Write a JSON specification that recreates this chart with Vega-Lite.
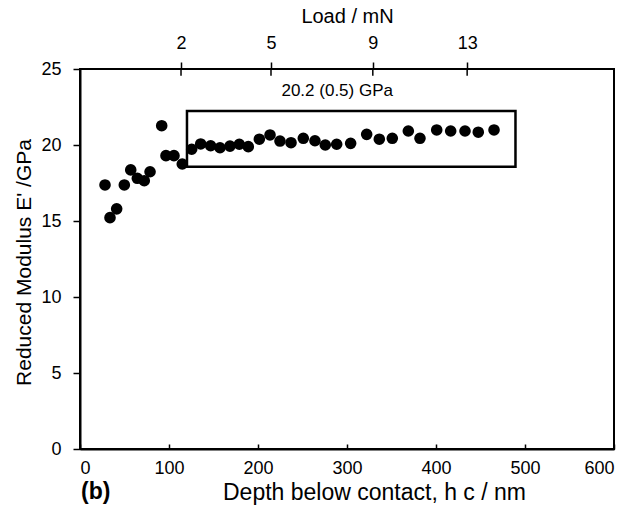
{
  "$schema": "https://vega.github.io/schema/vega-lite/v6.json",
  "autosize": {"type": "none"},
  "width": 534,
  "height": 380,
  "padding": {"left": 80, "top": 69, "right": 17, "bottom": 68},
  "background": "white",
  "config": {
    "font": "Liberation Sans",
    "view": {"stroke": "black", "strokeWidth": 2},
    "axis": {"grid": false, "domainColor": "black", "domainWidth": 2, "tickColor": "black", "tickWidth": 1.5, "labelColor": "black", "titleColor": "black", "labelFont": "Liberation Sans", "titleFont": "Liberation Sans", "labelFontSize": 18, "titleFontSize": 22, "titleFontWeight": "normal"}
  },
  "title": {"text": "(b)", "orient": "bottom", "anchor": "start", "frame": "group", "fontWeight": "bold", "fontSize": 23, "font": "Liberation Sans", "offset": -23, "dx": 1, "color": "black"},
  "datasets": {
    "points": [
      {"depth": 28.1, "E": 17.37}, {"depth": 33.7, "E": 15.22}, {"depth": 41.2, "E": 15.8},
      {"depth": 49.8, "E": 17.37}, {"depth": 57.0, "E": 18.36}, {"depth": 64.4, "E": 17.81},
      {"depth": 72.2, "E": 17.65}, {"depth": 78.7, "E": 18.24}, {"depth": 91.8, "E": 21.27},
      {"depth": 96.6, "E": 19.3}, {"depth": 105.6, "E": 19.3}, {"depth": 114.9, "E": 18.75},
      {"depth": 125.5, "E": 19.72}, {"depth": 135.6, "E": 20.07}, {"depth": 146.8, "E": 19.95},
      {"depth": 157.3, "E": 19.82}, {"depth": 168.5, "E": 19.93}, {"depth": 179.0, "E": 20.05},
      {"depth": 189.1, "E": 19.89}, {"depth": 201.5, "E": 20.38}, {"depth": 213.5, "E": 20.66},
      {"depth": 224.7, "E": 20.26}, {"depth": 237.1, "E": 20.15}, {"depth": 250.9, "E": 20.44},
      {"depth": 264.0, "E": 20.28}, {"depth": 275.6, "E": 20.0}, {"depth": 288.4, "E": 20.05},
      {"depth": 304.1, "E": 20.11}, {"depth": 322.1, "E": 20.7}, {"depth": 336.3, "E": 20.38},
      {"depth": 350.9, "E": 20.44}, {"depth": 368.9, "E": 20.92}, {"depth": 382.0, "E": 20.44},
      {"depth": 400.8, "E": 20.99}, {"depth": 416.5, "E": 20.92}, {"depth": 432.6, "E": 20.92},
      {"depth": 447.5, "E": 20.84}, {"depth": 465.2, "E": 20.99}
    ],
    "box": [{"x1": 120.2, "x2": 489.3, "y1": 18.57, "y2": 22.24, "label": "20.2 (0.5) GPa", "lx": 289, "ly": 23.55}],
    "loads": [{"depth": 113.5, "load": "2"}, {"depth": 214.6, "load": "5"}, {"depth": 329, "load": "9"}, {"depth": 435, "load": "13"}]
  },
  "resolve": {"scale": {"x": "independent"}, "axis": {"x": "independent"}},
  "layer": [
    {
      "layer": [
        {
          "data": {"name": "box"},
          "mark": {"type": "rect", "fill": null, "filled": false, "stroke": "black", "strokeWidth": 2.5},
          "encoding": {
            "x": {"field": "x1", "type": "quantitative"},
            "x2": {"field": "x2"},
            "y": {"field": "y1", "type": "quantitative"},
            "y2": {"field": "y2"}
          }
        },
        {
          "data": {"name": "box"},
          "mark": {"type": "text", "fontSize": 17, "font": "Liberation Sans", "color": "black", "align": "center", "baseline": "middle"},
          "encoding": {
            "x": {"field": "lx", "type": "quantitative"},
            "y": {"field": "ly", "type": "quantitative"},
            "text": {"field": "label"}
          }
        },
        {
          "data": {"name": "points"},
          "mark": {"type": "point", "shape": "circle", "filled": true, "color": "black", "opacity": 1, "size": 135},
          "encoding": {
            "x": {"field": "depth", "type": "quantitative", "scale": {"domain": [0, 600], "nice": false},
              "axis": {"values": [0, 100, 200, 300, 400, 500, 600], "labelFontSize": 18, "tickSize": -5, "labelPadding": 15, "title": "Depth below contact, h c  / nm", "titleFontSize": 23, "titleX": 294, "titlePadding": 4}},
            "y": {"field": "E", "type": "quantitative", "scale": {"domain": [0, 25], "nice": false},
              "axis": {"values": [0, 5, 10, 15, 20, 25], "labelFontSize": 18, "tickSize": 7, "labelPadding": 12, "title": "Reduced Modulus E' /GPa", "titleFontSize": 21, "titleY": 193, "titlePadding": 6}}
          }
        }
      ]
    },
    {
      "data": {"name": "loads"},
      "layer": [
        {
          "mark": {"type": "rule", "color": "black", "strokeWidth": 1.5},
          "encoding": {
            "x": {"field": "depth", "type": "quantitative", "scale": {"domain": [0, 600], "nice": false},
              "axis": {"orient": "top", "values": [113.5, 214.6, 329, 435], "labelExpr": "datum.value < 150 ? '2' : datum.value < 250 ? '5' : datum.value < 400 ? '9' : '13'", "labelFontSize": 18, "tickSize": 7, "labelPadding": 10, "title": "Load / mN", "titleFontSize": 20, "titlePadding": 8, "domain": false}},
            "y": {"datum": 25, "type": "quantitative", "scale": {"domain": [0, 25], "nice": false}},
            "y2": {"datum": 24.55}
          }
        }
      ]
    }
  ]
}
